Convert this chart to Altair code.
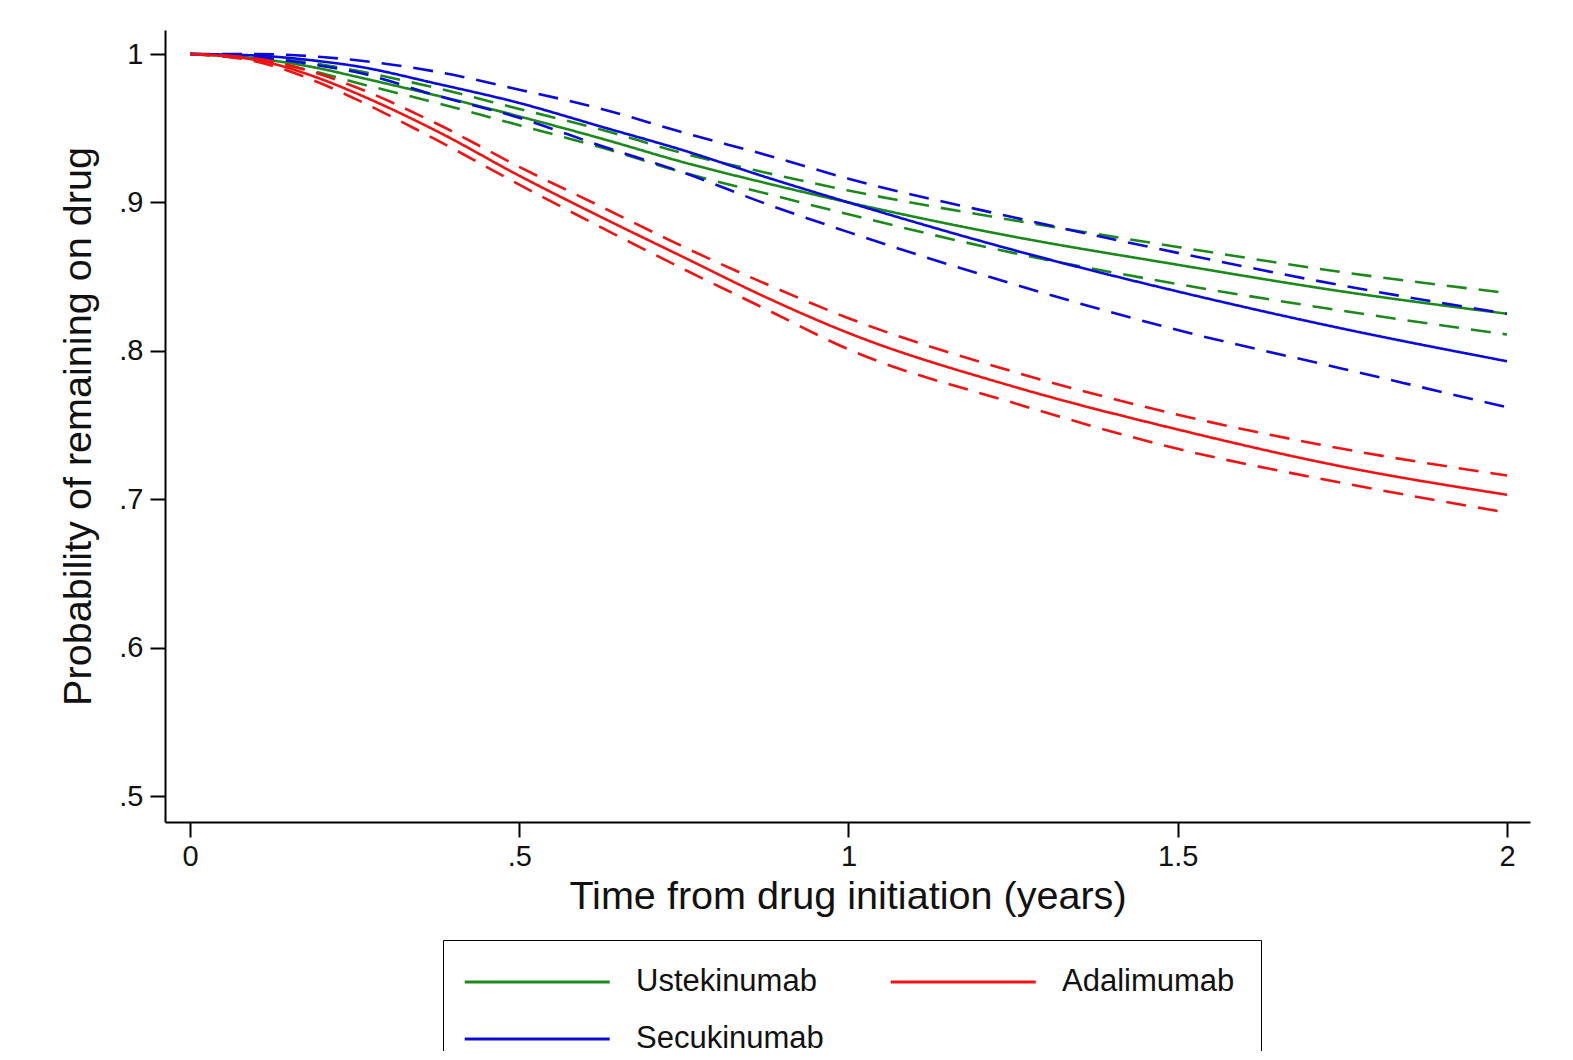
import altair as alt
import pandas as pd

# time points (years)
t_vals = [0, 0.1, 0.2, 0.25, 0.375, 0.5, 0.625, 0.75, 0.875, 1.0, 1.25, 1.5, 1.75, 2.0]

# Ustekinumab
ust_est = [1, 0.997, 0.990, 0.985, 0.972, 0.958, 0.943, 0.927, 0.913, 0.900, 0.877, 0.858, 0.840, 0.825]
ust_hi  = [1, 0.998, 0.993, 0.989, 0.977, 0.963, 0.949, 0.933, 0.920, 0.908, 0.888, 0.870, 0.853, 0.839]
ust_lo  = [1, 0.996, 0.987, 0.981, 0.967, 0.952, 0.937, 0.920, 0.906, 0.892, 0.866, 0.845, 0.827, 0.811]

# Secukinumab
sec_est = [1, 0.999, 0.995, 0.992, 0.980, 0.967, 0.951, 0.935, 0.917, 0.900, 0.868, 0.840, 0.815, 0.793]
sec_hi  = [1, 1.000, 0.998, 0.996, 0.988, 0.976, 0.963, 0.947, 0.932, 0.916, 0.890, 0.866, 0.844, 0.825]
sec_lo  = [1, 0.998, 0.992, 0.988, 0.972, 0.957, 0.938, 0.920, 0.899, 0.880, 0.845, 0.814, 0.788, 0.762]

# Adalimumab
ada_est = [1, 0.996, 0.983, 0.974, 0.948, 0.918, 0.890, 0.863, 0.836, 0.812, 0.776, 0.747, 0.722, 0.703]
ada_hi  = [1, 0.997, 0.986, 0.978, 0.953, 0.924, 0.897, 0.870, 0.845, 0.822, 0.786, 0.757, 0.734, 0.716]
ada_lo  = [1, 0.995, 0.980, 0.970, 0.942, 0.912, 0.883, 0.855, 0.828, 0.801, 0.765, 0.734, 0.711, 0.691]

drugs = ["Ustekinumab", "Adalimumab", "Secukinumab"]
colors = ["#1b8a1b", "#f21212", "#0a0adc"]

series = {
    ("Ustekinumab", "est"): ust_est, ("Ustekinumab", "hi"): ust_hi, ("Ustekinumab", "lo"): ust_lo,
    ("Secukinumab", "est"): sec_est, ("Secukinumab", "hi"): sec_hi, ("Secukinumab", "lo"): sec_lo,
    ("Adalimumab", "est"): ada_est, ("Adalimumab", "hi"): ada_hi, ("Adalimumab", "lo"): ada_lo,
}

rows = []
for (drug, band), vals in series.items():
    for t, v in zip(t_vals, vals):
        rows.append({"t": t, "p": v, "drug": drug, "band": band, "sid": drug + "_" + band})
df = pd.DataFrame(rows)

FONT = "Liberation Sans"

chart = alt.Chart(df).mark_line(strokeWidth=2.6, interpolate="monotone").encode(
    x=alt.X("t:Q",
            scale=alt.Scale(domain=[-0.038, 2.035], nice=False, zero=False),
            axis=alt.Axis(values=[0, 0.5, 1, 1.5, 2], title="Time from drug initiation (years)",
                          labelExpr="replace(format(datum.value, '~g'), '0.', '.')",
                          tickSize=15, labelPadding=5, titlePadding=6)),
    y=alt.Y("p:Q",
            scale=alt.Scale(domain=[0.4825, 1.0162], nice=False, zero=False),
            axis=alt.Axis(values=[0.5, 0.6, 0.7, 0.8, 0.9, 1.0], title="Probability of remaining on drug",
                          labelExpr="replace(format(datum.value, '~g'), '0.', '.')",
                          tickSize=15, labelPadding=7, titlePadding=20)),
    color=alt.Color("drug:N",
                    scale=alt.Scale(domain=drugs, range=colors),
                    sort=drugs,
                    legend=alt.Legend(title=None, orient="none", legendX=278, legendY=910,
                                      columns=2, direction="horizontal",
                                      symbolType="M-1.4,0H8.6", symbolSize=841,
                                      symbolStrokeWidth=3, symbolDash=[1, 0], labelOffset=135,
                                      columnPadding=60, rowPadding=26, padding=26,
                                      strokeColor="black", labelFontSize=31, labelFont=FONT,
                                      labelColor="#111", labelLimit=400)),
    strokeDash=alt.StrokeDash("band:N",
                              scale=alt.Scale(domain=["est", "hi", "lo"], range=[[1, 0], [20, 12], [20, 12]]),
                              legend=None),
    detail="sid:N",
).properties(
    width=1365, height=792,
    autosize="none",
    padding={"left": 157, "top": 22, "right": 35, "bottom": 229},
).configure_view(stroke=None).configure_axis(
    grid=False, domainColor="black", domainWidth=2, tickColor="black", tickWidth=2,
    labelFont=FONT, labelFontSize=29, labelColor="#111",
    titleFont=FONT, titleFontSize=39.6, titleFontWeight="normal", titleColor="#111",
).configure_axisY(labelAngle=0)

chart.save("out.html", embed_options={"renderer": "svg", "actions": False})
